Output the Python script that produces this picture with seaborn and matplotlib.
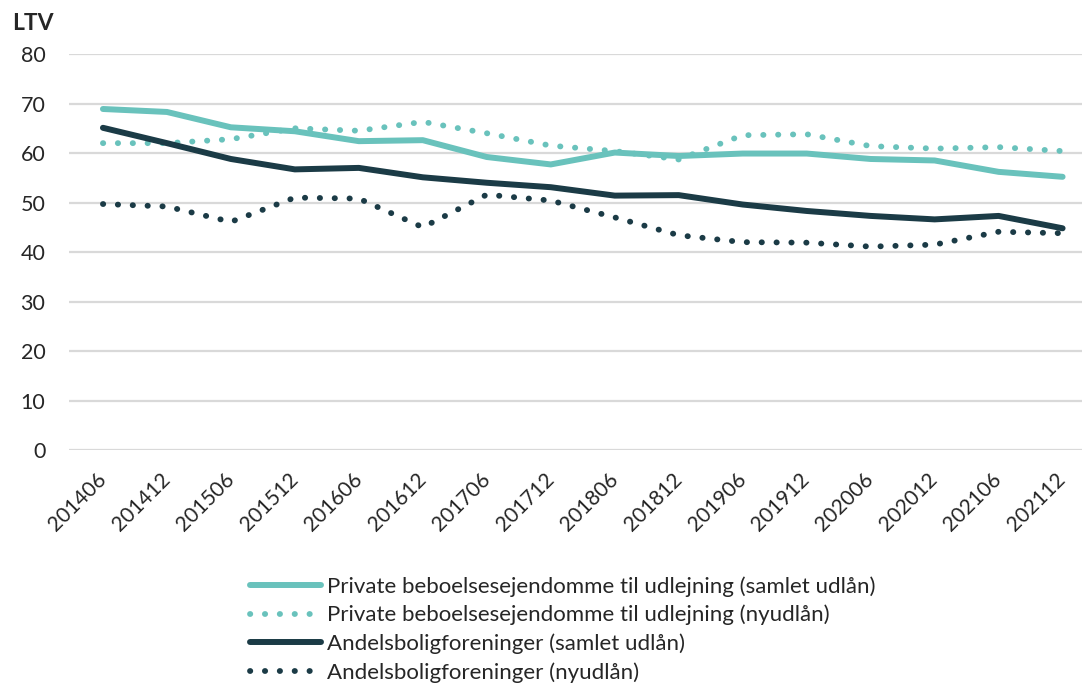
import pandas            as pd
import seaborn           as sns
import matplotlib.pyplot as plt


# Half-year periods on the x axis
periods = ['201406', '201412', '201506', '201512', '201606', '201612', '201706', '201712',
           '201806', '201812', '201906', '201912', '202006', '202012', '202106', '202112']

# LTV values
private_total = [68.9, 68.3, 65.2, 64.4, 62.4, 62.6, 59.2, 57.7, 60.1, 59.4, 59.9, 59.9, 58.8, 58.5, 56.2, 55.2]
private_new   = [62.0, 62.0, 62.8, 65.0, 64.5, 66.3, 64.0, 61.5, 60.4, 58.7, 63.6, 63.8, 61.4, 60.9, 61.2, 60.4]
coop_total    = [65.1, 62.0, 58.8, 56.7, 57.0, 55.1, 54.0, 53.1, 51.4, 51.5, 49.6, 48.3, 47.3, 46.6, 47.3, 44.8]
coop_new      = [49.7, 49.2, 46.1, 51.0, 50.8, 45.0, 51.6, 50.4, 47.0, 43.4, 42.0, 41.9, 41.1, 41.5, 44.1, 43.8]

series_names = ['Private beboelsesejendomme til udlejning (samlet udlån)',
                'Private beboelsesejendomme til udlejning (nyudlån)',
                'Andelsboligforeninger (samlet udlån)',
                'Andelsboligforeninger (nyudlån)']
y_ticks = [0, 10, 20, 30, 40, 50, 60, 70, 80]

teal = '#69c2bc'
dark = '#1b3b46'

sns.set_style('white')
plt.rcParams['font.family'] = ['Lato', 'DejaVu Sans']

fig = plt.figure(figsize=(10.82, 6.84), dpi=100)
ax = fig.add_axes([0.0638, 0.342, 0.936, 0.579])

styles = [(private_total, teal, 'solid'),
          (private_new,   teal, 'dotted'),
          (coop_total,    dark, 'solid'),
          (coop_new,      dark, 'dotted')]

for name, (values, color, kind) in zip(series_names, styles):
  df = pd.DataFrame({'period': periods, 'ltv': values})
  if kind == 'solid':
    sns.lineplot(data=df, x='period', y='ltv', sort=False, ax=ax, color=color,
                 linewidth=4.3, solid_capstyle='round', label=name)
  else:
    sns.lineplot(data=df, x='period', y='ltv', sort=False, ax=ax, color=color,
                 linewidth=4.2, linestyle=(0, (0.05, 2.5)), dash_capstyle='round', label=name)

ax.set_ylim(0, 80)
ax.set_xlim(-0.53, 15.3)
ax.set_yticks(y_ticks)
ax.yaxis.grid(True, color='#d9d9d9', linewidth=1.6)
ax.xaxis.grid(False)
for s in ax.spines.values():
  s.set_visible(False)
ax.set_xlabel('')
ax.set_ylabel('')
ax.tick_params(axis='y', labelsize=15.5, length=0, pad=17)
ax.tick_params(axis='x', labelsize=15, length=0, pad=19)
plt.setp(ax.get_xticklabels(), rotation=45, ha='right', va='center', rotation_mode='anchor')

fig.text(0.011, 0.9656, 'LTV', fontsize=16.5, fontweight='bold', va='center')

leg = ax.legend(loc='upper left', bbox_to_anchor=(0.1787, -0.318), frameon=False,
                fontsize=16, handlelength=3.2, handletextpad=0.27, labelspacing=0.37,
                borderaxespad=0, borderpad=0)

plt.savefig('out.png', dpi=100)
plt.close()
